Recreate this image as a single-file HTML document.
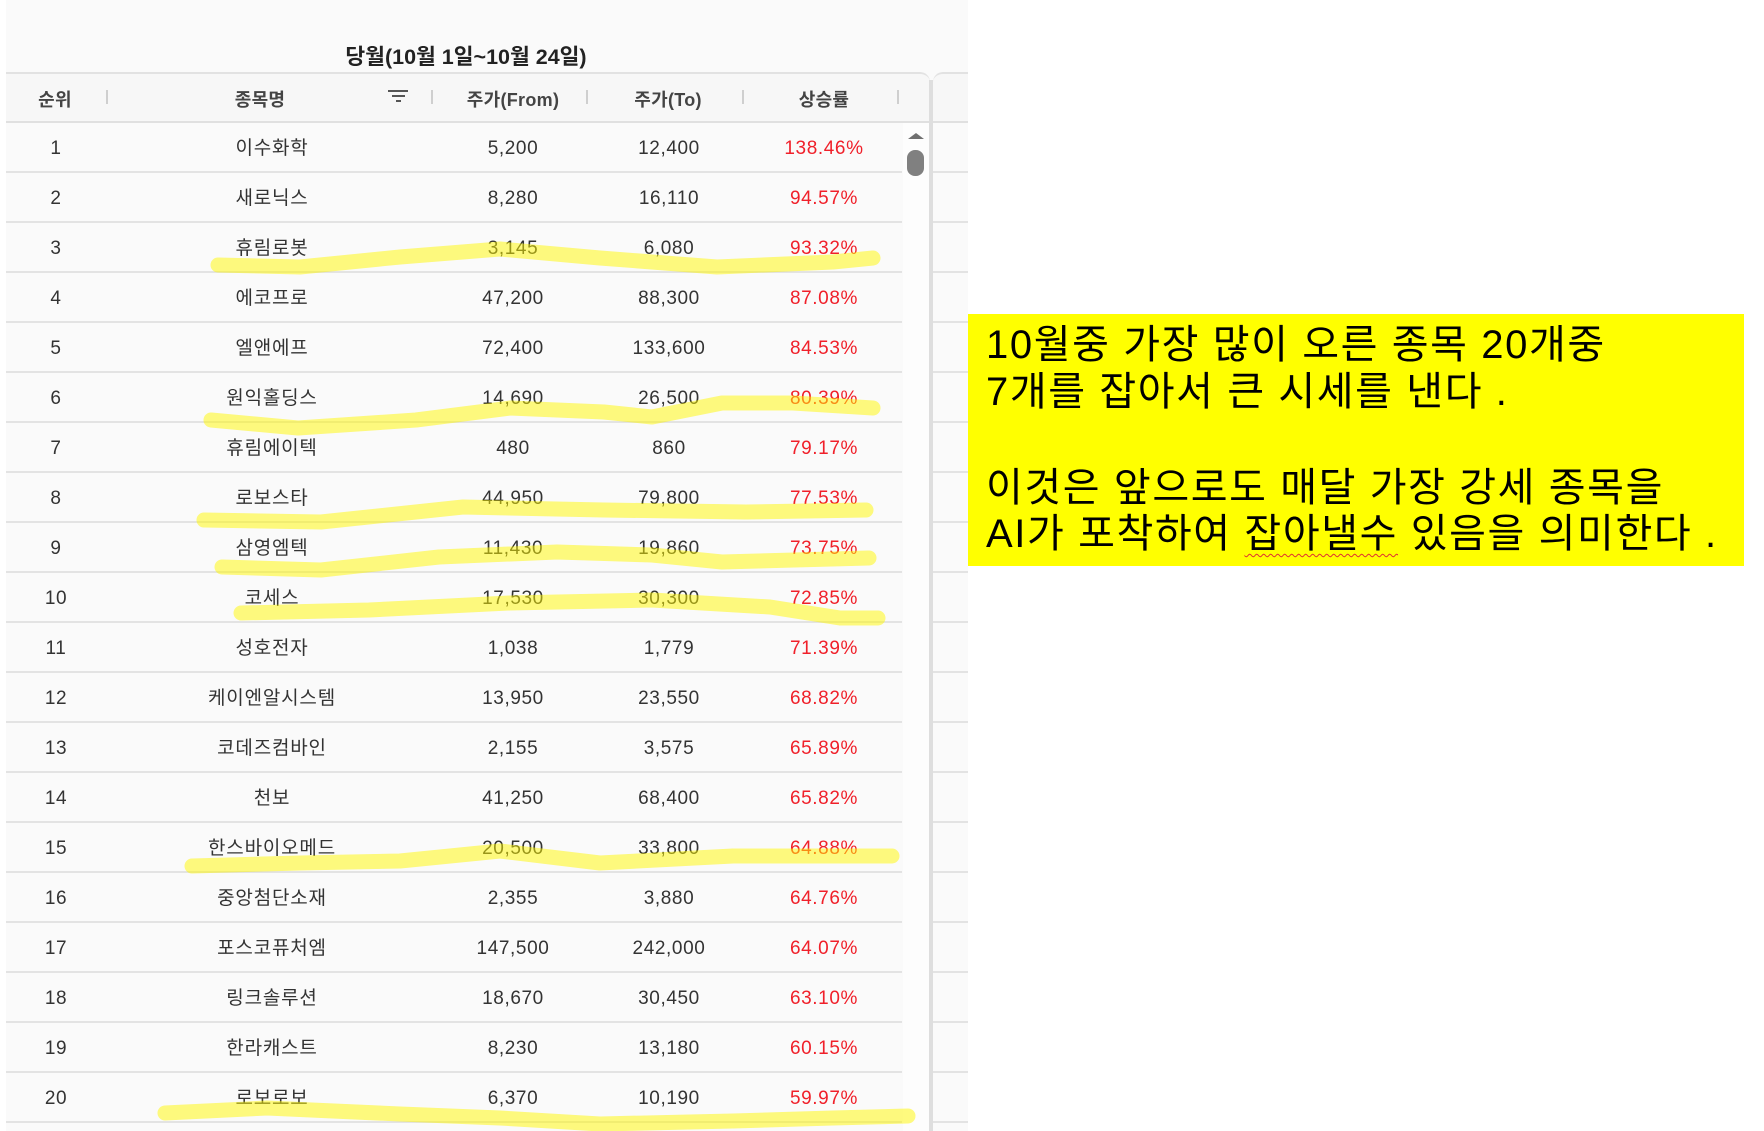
<!DOCTYPE html>
<html><head><meta charset="utf-8"><style>
*{margin:0;padding:0;box-sizing:border-box}
html,body{width:1764px;height:1131px;overflow:hidden;background:#fff}
body{position:relative;font-family:"Liberation Sans","Noto Sans CJK KR",sans-serif;color:#333}
.abs{position:absolute}
#panel{left:6px;top:0;width:962px;height:1131px;background:#fafafa}
.title{position:absolute;left:266px;width:400px;top:43px;text-align:center;font-weight:bold;font-size:21.5px;color:#222;line-height:28px}
.hdr{position:absolute;left:6px;top:72px;width:924px;height:51px;background:#f7f7f7;border-top:2px solid #e2e2e2;border-bottom:2px solid #e0e0e0;border-top-right-radius:10px;border-right:0}
.hdr2{position:absolute;left:933px;top:72px;width:35px;height:51px;background:#f7f7f7;border-top:2px solid #e2e2e2;border-bottom:2px solid #e0e0e0;border-top-left-radius:10px}
.divider{position:absolute;left:929px;top:80px;width:4px;height:1051px;background:#dedede}
.hc{position:absolute;top:86px;width:200px;text-align:center;font-size:18px;line-height:28px;color:#444;font-weight:bold;letter-spacing:0.3px}
.sep{position:absolute;top:90px;width:2px;height:14px;background:#cfcfcf}
.row{position:absolute;left:6px;width:896px;height:50px;border-bottom:2px solid #e3e3e3}
.rowr{position:absolute;left:933px;width:35px;height:50px;border-bottom:2px solid #e3e3e3}
.c{position:absolute;top:1px;width:200px;text-align:center;line-height:50px;font-size:19px;letter-spacing:0.6px;color:#333}
.n{font-size:19px;letter-spacing:0.8px}
.r{color:#f0202a}
#note{position:absolute;left:968px;top:314px;width:776px;height:252px;background:#ffff00}
.nl{position:absolute;left:18px;font-size:40px;line-height:47px;color:#000;letter-spacing:1.6px;white-space:nowrap}
.wav{text-decoration:underline wavy #e03030;text-decoration-thickness:1px;text-underline-offset:6px}
</style></head><body>
<div class="abs" id="panel"></div>
<div class="title">당월(10월 1일~10월 24일)</div>
<div class="hdr"></div>
<div class="hdr2"></div>
<div class="abs" style="left:903px;top:123px;width:26px;height:1008px;background:#fdfdfd"></div>
<div class="divider"></div>

<div class="hc" style="left:-45px">순위</div>
<div class="hc" style="left:160px">종목명</div>
<div class="hc" style="left:413px">주가(From)</div>
<div class="hc" style="left:568px">주가(To)</div>
<div class="hc" style="left:724px">상승률</div>
<div class="sep" style="left:106px"></div>
<div class="sep" style="left:431px"></div>
<div class="sep" style="left:586px"></div>
<div class="sep" style="left:742px"></div>
<div class="sep" style="left:897px"></div>
<!-- filter icon -->
<div class="abs" style="left:388px;top:90px;width:20px;height:2px;background:#555"></div>
<div class="abs" style="left:392px;top:95px;width:13px;height:2px;background:#555"></div>
<div class="abs" style="left:396px;top:100px;width:5px;height:2px;background:#555"></div>
<!-- scrollbar -->
<div class="abs" style="left:908px;top:133px;width:0;height:0;border-left:8px solid transparent;border-right:8px solid transparent;border-bottom:6px solid #707070"></div>
<div class="abs" style="left:907px;top:150px;width:17px;height:26px;border-radius:8px;background:#808080"></div>

<div id="rows"></div>
<script>
var d=[["1","이수화학","5,200","12,400","138.46%"],["2","새로닉스","8,280","16,110","94.57%"],["3","휴림로봇","3,145","6,080","93.32%"],["4","에코프로","47,200","88,300","87.08%"],["5","엘앤에프","72,400","133,600","84.53%"],["6","원익홀딩스","14,690","26,500","80.39%"],["7","휴림에이텍","480","860","79.17%"],["8","로보스타","44,950","79,800","77.53%"],["9","삼영엠텍","11,430","19,860","73.75%"],["10","코세스","17,530","30,300","72.85%"],["11","성호전자","1,038","1,779","71.39%"],["12","케이엔알시스템","13,950","23,550","68.82%"],["13","코데즈컴바인","2,155","3,575","65.89%"],["14","천보","41,250","68,400","65.82%"],["15","한스바이오메드","20,500","33,800","64.88%"],["16","중앙첨단소재","2,355","3,880","64.76%"],["17","포스코퓨처엠","147,500","242,000","64.07%"],["18","링크솔루션","18,670","30,450","63.10%"],["19","한라캐스트","8,230","13,180","60.15%"],["20","로보로보","6,370","10,190","59.97%"]];
var h="";
for(var i=0;i<d.length;i++){var t=123+50*i;
h+='<div class="row" style="top:'+t+'px">'+
'<div class="c" style="left:-50px">'+d[i][0]+'</div>'+
'<div class="c n" style="left:166px">'+d[i][1]+'</div>'+
'<div class="c" style="left:407px">'+d[i][2]+'</div>'+
'<div class="c" style="left:563px">'+d[i][3]+'</div>'+
'<div class="c r" style="left:718px">'+d[i][4]+'</div></div>'+
'<div class="rowr" style="top:'+t+'px"></div>';}
document.getElementById("rows").innerHTML=h;
</script>

<svg class="abs" style="left:0;top:0" width="1764" height="1131" viewBox="0 0 1764 1131">
<g fill="none" stroke="#fff700" stroke-opacity="0.5" stroke-width="15" stroke-linecap="round" stroke-linejoin="round">
<polyline points="218,265 300,267 400,257 500,249 600,258 717,267 833,262 873,258"/>
<polyline points="211,420 298,428 416,420 510,408 604,412 652,417 722,403 793,403 873,408"/>
<polyline points="204,520 321,522 463,507 604,510 746,512 866,510"/>
<polyline points="222,567 321,570 439,557 557,552 652,555 722,562 869,558"/>
<polyline points="241,613 369,610 510,603 652,600 770,607 840,618 878,618"/>
<polyline points="192,866 300,863 400,861 500,851 600,863 733,856 892,856"/>
<polyline points="165,1113 267,1108 400,1114 500,1118 600,1124 733,1121 833,1118 908,1116"/>
</g>
</svg>

<div id="note">
<div class="nl" style="top:8px">10월중 가장 많이 오른 종목 20개중</div>
<div class="nl" style="top:55px">7개를 잡아서 큰 시세를 낸다 .</div>
<div class="nl" style="top:151px">이것은 앞으로도 매달 가장 강세 종목을</div>
<div class="nl" style="top:197px">AI가 포착하여 <span class="wav">잡아낼수</span> 있음을 의미한다 .</div>
</div>
</body></html>
